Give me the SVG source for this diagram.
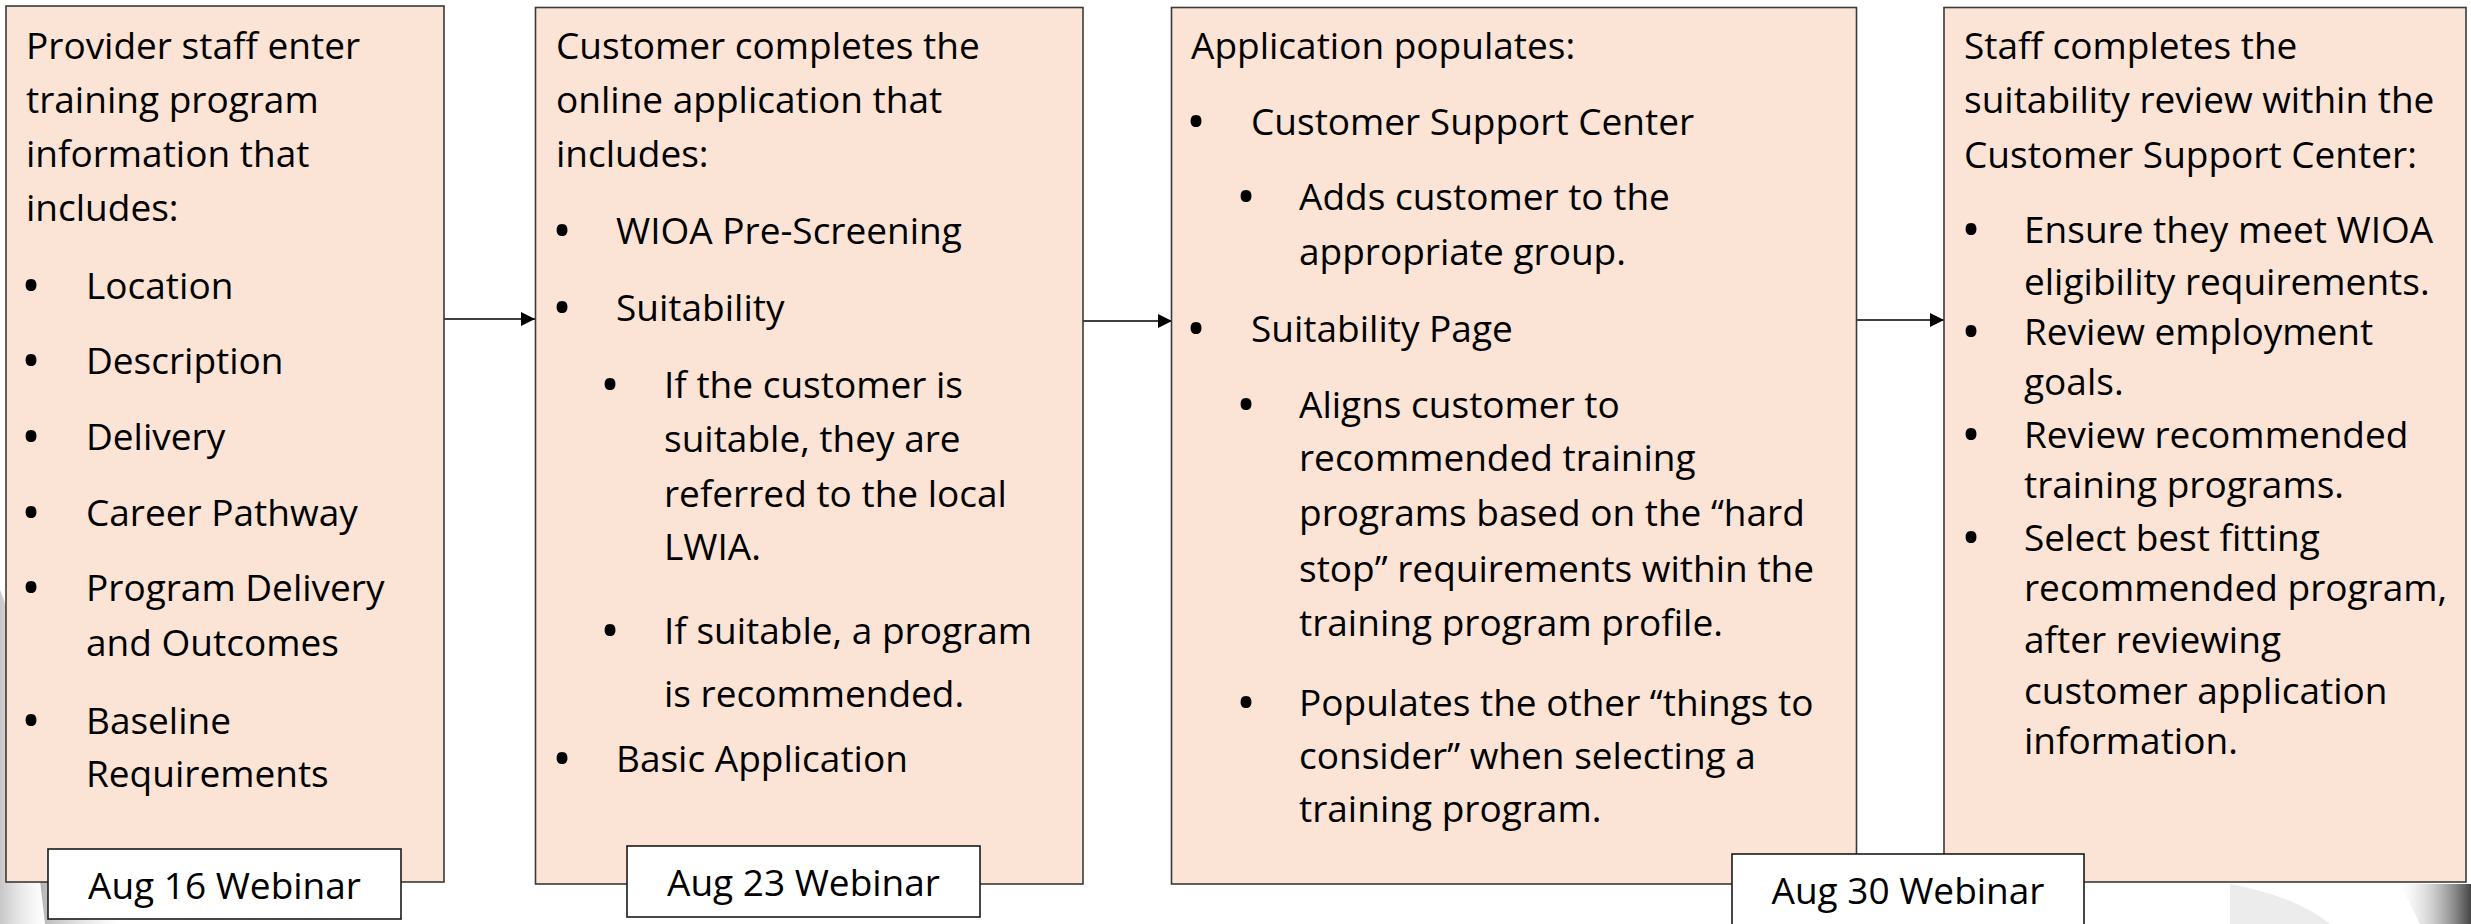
<svg xmlns="http://www.w3.org/2000/svg" width="2471" height="924" viewBox="0 0 2471 924">
  <style>
    .box { fill: #FBE4D5; stroke: #3a3a3a; stroke-width: 1.6; }
    .lbl { fill: #ffffff; stroke: #1a1a1a; stroke-width: 1.6; }
    .t { font-family: "Open Sans", "Liberation Sans", sans-serif; font-size: 37px; fill: #000; }
    .b { font-family: "Open Sans", "Liberation Sans", sans-serif; font-size: 52px; fill: #000; text-anchor: middle; }
    .c { font-family: "Open Sans", "Liberation Sans", sans-serif; font-size: 37px; fill: #000; text-anchor: middle; }
    .conn { stroke: #000; stroke-width: 1.6; fill: none; }
  </style>
  <defs>
    <marker id="arr" markerUnits="userSpaceOnUse" markerWidth="16" markerHeight="16" refX="14" refY="7" orient="auto">
      <path d="M0,0 L14,7 L0,14 Z" fill="#000"/>
    </marker>
    <linearGradient id="gl" x1="0" y1="0" x2="1" y2="0">
      <stop offset="0" stop-color="#7a7a7a" stop-opacity="0.7"/>
      <stop offset="1" stop-color="#bdbdbd" stop-opacity="0"/>
    </linearGradient>
    <linearGradient id="gr" x1="0" y1="0" x2="1" y2="0">
      <stop offset="0" stop-color="#d0d0d0" stop-opacity="0"/>
      <stop offset="1" stop-color="#303030" stop-opacity="0.9"/>
    </linearGradient>
  </defs>

  <g id="background">
    <path d="M0,590 C20,640 35,700 40,760 L45,924 L0,924 Z" fill="url(#gl)" opacity="0.6"/>
    <path d="M40,880 L95,880 L120,924 L45,924 Z" fill="url(#gl)" opacity="0.8"/>
    <path d="M2230,884 C2260,890 2300,900 2330,924 L2230,924 Z" fill="#cfcfcf" opacity="0.4"/>
    <path d="M2400,884 L2471,884 L2471,924 L2420,924 Z" fill="url(#gr)"/>
  </g>

  <g id="connectors">
    <line class="conn" x1="444" y1="319" x2="535" y2="319" marker-end="url(#arr)"/>
    <line class="conn" x1="1083" y1="321" x2="1172" y2="321" marker-end="url(#arr)"/>
    <line class="conn" x1="1857" y1="320" x2="1944" y2="320" marker-end="url(#arr)"/>
  </g>

  <g id="node1">
    <rect class="box" x="6" y="6" width="438" height="876"/>
    <text class="t">
      <tspan x="26" y="59">Provider staff enter</tspan>
      <tspan x="26" y="113">training program</tspan>
      <tspan x="26" y="167">information that</tspan>
      <tspan x="26" y="221">includes:</tspan>
    </text>
    <text class="b"><tspan x="31" y="304">•</tspan><tspan x="31" y="379">•</tspan><tspan x="31" y="455">•</tspan><tspan x="31" y="531">•</tspan><tspan x="31" y="606">•</tspan><tspan x="31" y="739">•</tspan></text>
    <text class="t">
      <tspan x="86" y="299">Location</tspan>
      <tspan x="86" y="374">Description</tspan>
      <tspan x="86" y="450">Delivery</tspan>
      <tspan x="86" y="526">Career Pathway</tspan>
      <tspan x="86" y="601">Program Delivery</tspan>
      <tspan x="86" y="656">and Outcomes</tspan>
      <tspan x="86" y="734">Baseline</tspan>
      <tspan x="86" y="787">Requirements</tspan>
    </text>
  </g>

  <g id="node2">
    <rect class="box" x="535.5" y="7.5" width="547.5" height="876.5"/>
    <text class="t">
      <tspan x="556" y="59">Customer completes the</tspan>
      <tspan x="556" y="113">online application that</tspan>
      <tspan x="556" y="167">includes:</tspan>
    </text>
    <text class="b"><tspan x="562" y="249">•</tspan><tspan x="562" y="326">•</tspan><tspan x="610" y="403">•</tspan><tspan x="610" y="649">•</tspan><tspan x="562" y="777">•</tspan></text>
    <text class="t">
      <tspan x="616" y="244">WIOA Pre-Screening</tspan>
      <tspan x="616" y="321">Suitability</tspan>
      <tspan x="664" y="398">If the customer is</tspan>
      <tspan x="664" y="452">suitable, they are</tspan>
      <tspan x="664" y="507">referred to the local</tspan>
      <tspan x="664" y="560">LWIA.</tspan>
      <tspan x="664" y="644">If suitable, a program</tspan>
      <tspan x="664" y="707">is recommended.</tspan>
      <tspan x="616" y="772">Basic Application</tspan>
    </text>
  </g>

  <g id="node3">
    <rect class="box" x="1171.5" y="7.5" width="685" height="876.5"/>
    <text class="t"><tspan x="1191" y="59">Application populates:</tspan></text>
    <text class="b"><tspan x="1196" y="140">•</tspan><tspan x="1246" y="215">•</tspan><tspan x="1196" y="347">•</tspan><tspan x="1246" y="423">•</tspan><tspan x="1246" y="721">•</tspan></text>
    <text class="t">
      <tspan x="1251" y="135">Customer Support Center</tspan>
      <tspan x="1299" y="210">Adds customer to the</tspan>
      <tspan x="1299" y="265">appropriate group.</tspan>
      <tspan x="1251" y="342">Suitability Page</tspan>
      <tspan x="1299" y="418">Aligns customer to</tspan>
      <tspan x="1299" y="471">recommended training</tspan>
      <tspan x="1299" y="526">programs based on the “hard</tspan>
      <tspan x="1299" y="582">stop” requirements within the</tspan>
      <tspan x="1299" y="636">training program profile.</tspan>
      <tspan x="1299" y="716">Populates the other “things to</tspan>
      <tspan x="1299" y="769">consider” when selecting a</tspan>
      <tspan x="1299" y="822">training program.</tspan>
    </text>
  </g>

  <g id="node4">
    <rect class="box" x="1944" y="7.5" width="522" height="874.5"/>
    <text class="t">
      <tspan x="1964" y="59">Staff completes the</tspan>
      <tspan x="1964" y="113">suitability review within the</tspan>
      <tspan x="1964" y="168">Customer Support Center:</tspan>
    </text>
    <text class="b"><tspan x="1971" y="248">•</tspan><tspan x="1971" y="350">•</tspan><tspan x="1971" y="453">•</tspan><tspan x="1971" y="556">•</tspan></text>
    <text class="t">
      <tspan x="2024" y="243">Ensure they meet WIOA</tspan>
      <tspan x="2024" y="295">eligibility requirements.</tspan>
      <tspan x="2024" y="345">Review employment</tspan>
      <tspan x="2024" y="395">goals.</tspan>
      <tspan x="2024" y="448">Review recommended</tspan>
      <tspan x="2024" y="498">training programs.</tspan>
      <tspan x="2024" y="551">Select best fitting</tspan>
      <tspan x="2024" y="601">recommended program,</tspan>
      <tspan x="2024" y="653">after reviewing</tspan>
      <tspan x="2024" y="704">customer application</tspan>
      <tspan x="2024" y="754">information.</tspan>
    </text>
  </g>

  <g id="label1">
    <rect class="lbl" x="48" y="849" width="353" height="70"/>
    <text class="c" x="224.5" y="899">Aug 16 Webinar</text>
  </g>
  <g id="label2">
    <rect class="lbl" x="627" y="846" width="353" height="71"/>
    <text class="c" x="803.5" y="896">Aug 23 Webinar</text>
  </g>
  <g id="label3">
    <rect class="lbl" x="1732" y="854" width="352" height="90"/>
    <text class="c" x="1908" y="904">Aug 30 Webinar</text>
  </g>
</svg>
